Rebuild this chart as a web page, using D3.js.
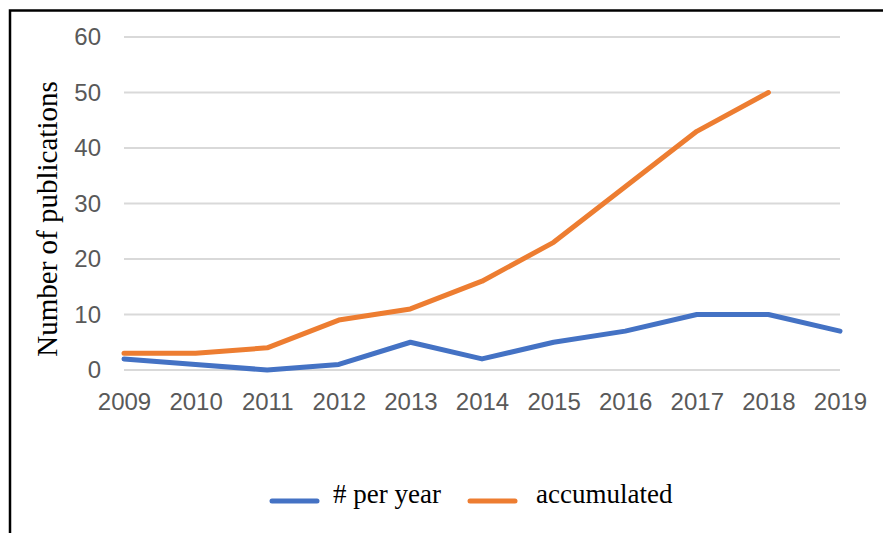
<!DOCTYPE html>
<html>
<head>
<meta charset="utf-8">
<script src="https://cdn.jsdelivr.net/npm/d3@7"></script>
<style>
  body { margin: 0; background: #fff; }
  svg { display: block; }
</style>
</head>
<body>
<script>
'use strict';

// chart data
const years = [2009, 2010, 2011, 2012, 2013, 2014, 2015, 2016, 2017, 2018, 2019];
const perYear = [2, 1, 0, 1, 5, 2, 5, 7, 10, 10, 7];
const accumulated = [3, 3, 4, 9, 11, 16, 23, 33, 43, 50]; // stops at 2018
const yTicks = [0, 10, 20, 30, 40, 50, 60];
const seriesNames = ["# per year", "accumulated"];
const seriesColors = ["#4472C4", "#ED7D31"];

const width = 883, height = 533;

const svg = d3.select("body").append("svg")
  .attr("width", width)
  .attr("height", height);

// outer frame (right/bottom edges fall off the picture)
svg.append("rect")
  .attr("x", 10).attr("y", 10.5)
  .attr("width", 900).attr("height", 600)
  .attr("fill", "none")
  .attr("stroke", "#000")
  .attr("stroke-width", 2.5);

// scales
const x = d3.scalePoint()
  .domain(years)
  .range([124, 840]);

const y = d3.scaleLinear()
  .domain([0, 60])
  .range([370, 37]);

// gridlines
svg.append("g")
  .selectAll("line")
  .data(yTicks)
  .enter()
  .append("line")
    .attr("x1", 124).attr("x2", 840)
    .attr("y1", (d) => y(d)).attr("y2", (d) => y(d))
    .attr("stroke", "#d9d9d9")
    .attr("stroke-width", 2);

// y axis labels
const yAxis = d3.axisLeft(y).tickValues(yTicks).tickSize(0).tickPadding(0);
const gy = svg.append("g")
  .attr("transform", "translate(101, 0)")
  .call(yAxis);
gy.select(".domain").remove();
gy.selectAll("text")
  .attr("fill", "#595959")
  .style("font-family", "'Liberation Sans', Arial, sans-serif")
  .style("font-size", "24px");

// x axis labels
const xAxis = d3.axisBottom(x).tickSize(0).tickPadding(0);
const gx = svg.append("g")
  .attr("transform", "translate(0, 393)")
  .call(xAxis);
gx.select(".domain").remove();
gx.selectAll("text")
  .attr("fill", "#595959")
  .style("font-family", "'Liberation Sans', Arial, sans-serif")
  .style("font-size", "24px");

// lines
const line = d3.line()
  .x((d) => x(d.year))
  .y((d) => y(d.value));

const series = [
  perYear.map((v, i) => ({ year: years[i], value: v })),
  accumulated.map((v, i) => ({ year: years[i], value: v }))
];

// orange first so blue sits on top where they touch
[1, 0].forEach((k) => {
  svg.append("path")
    .datum(series[k])
    .attr("d", line)
    .attr("fill", "none")
    .attr("stroke", seriesColors[k])
    .attr("stroke-width", 5)
    .attr("stroke-linejoin", "round")
    .attr("stroke-linecap", "round");
});

// y axis title
svg.append("text")
  .attr("transform", "translate(57, 219) rotate(-90)")
  .attr("text-anchor", "middle")
  .style("font-family", "'Liberation Serif', 'Times New Roman', serif")
  .style("font-size", "29px")
  .attr("fill", "#000")
  .text("Number of publications");

// legend
const legendX = [272, 470];
const legendTextX = [333, 536];
const legend = svg.append("g");
seriesNames.forEach((name, i) => {
  legend.append("line")
    .attr("x1", legendX[i]).attr("x2", legendX[i] + 45)
    .attr("y1", 501).attr("y2", 501)
    .attr("stroke", seriesColors[i])
    .attr("stroke-width", 5)
    .attr("stroke-linecap", "round");
  legend.append("text")
    .attr("x", legendTextX[i])
    .attr("y", 503)
    .style("font-family", "'Liberation Serif', 'Times New Roman', serif")
    .style("font-size", "27px")
    .attr("fill", "#000")
    .text(name);
});
</script>
</body>
</html>
